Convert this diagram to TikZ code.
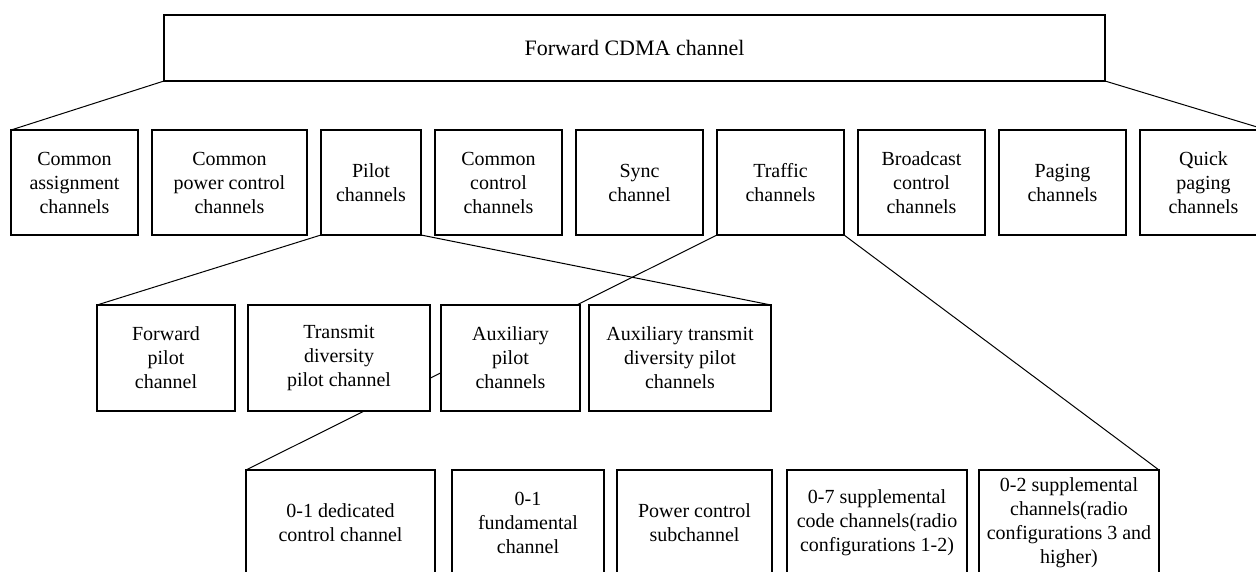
\documentclass[tikz,border=0pt]{standalone}
\usepackage{fontspec}
\setmainfont{Liberation Serif}
\usetikzlibrary{positioning,backgrounds}

\tikzset{every picture/.style={line width=1pt}}
\tikzset{
  chbox/.style={draw, line width=1.2pt, fill=white, align=center, inner sep=0pt, outer sep=0pt,
    minimum width=#1, minimum height=105pt, font=\fontsize{20}{24}\selectfont},
  chbox/.default=127pt,
  topbox/.style={draw, line width=1.2pt, fill=white, inner sep=0pt, outer sep=0pt,
    minimum width=941pt, minimum height=66pt, font=\fontsize{22}{26}\selectfont},
  link/.style={line width=1pt}
}

\begin{document}
\begin{tikzpicture}[x=1pt,y=1pt,yscale=-1,xscale=1]
\useasboundingbox (0,0) rectangle (1256,571);

%Top box
\node [topbox] (fwd) at (634.5,48) {Forward CDMA channel};

%First row
\node [chbox] (assign) at (74.5,182.5) {Common\\assignment\\channels};
\node [chbox=155pt, right=14pt of assign] (cpc) {Common\\power control\\channels};
\node [chbox=100pt, right=14pt of cpc] (pilot) {Pilot\\channels};
\node [chbox, right=14pt of pilot] (cctrl) {Common\\control\\channels};
\node [chbox, right=14pt of cctrl] (sync) {Sync\\channel};
\node [chbox, right=14pt of sync] (traffic) {Traffic\\channels};
\node [chbox, right=14pt of traffic] (bcast) {Broadcast\\control\\channels};
\node [chbox, right=14pt of bcast] (paging) {Paging\\channels};
\node [chbox, right=14pt of paging] (qpaging) {Quick\\paging\\channels};

%Second row
\node [chbox=138pt, minimum height=106pt] (fpilot) at (166,358) {Forward\\pilot\\channel};
\node [chbox=182pt, minimum height=106pt, right=13pt of fpilot] (tdpilot) {Transmit\\diversity\\pilot channel};
\node [chbox=139pt, minimum height=106pt, right=11pt of tdpilot] (auxpilot) {Auxiliary\\pilot\\channels};
\node [chbox=182pt, minimum height=106pt, right=9pt of auxpilot] (auxtd) {Auxiliary transmit\\diversity pilot\\channels};

%Third row
\node [chbox=189pt, minimum height=106pt] (dcch) at (340.5,523) {0-1 dedicated\\control channel};
\node [chbox=152pt, minimum height=106pt, right=17pt of dcch] (fch) {0-1\\fundamental\\channel};
\node [chbox=155pt, minimum height=106pt, right=13pt of fch] (pcsch) {Power control\\subchannel};
\node [chbox=180pt, minimum height=106pt, right=15pt of pcsch] (scch) {0-7 supplemental\\code channels(radio\\configurations 1-2)};
\node [chbox=180pt, minimum height=106pt, right=12pt of scch] (sch) {0-2 supplemental\\channels(radio\\configurations 3 and\\higher)};

%Straight Lines
\begin{scope}[on background layer]
\draw [link] (fwd.south west) -- (assign.north west);
\draw [link] (fwd.south east) -- (qpaging.north east);
\draw [link] (pilot.south west) -- (fpilot.north west);
\draw [link] (pilot.south east) -- (auxtd.north east);
\draw [link] (traffic.south west) -- (dcch.north west);
\draw [link] (traffic.south east) -- (sch.north east);
\end{scope}

\end{tikzpicture}
\end{document}
